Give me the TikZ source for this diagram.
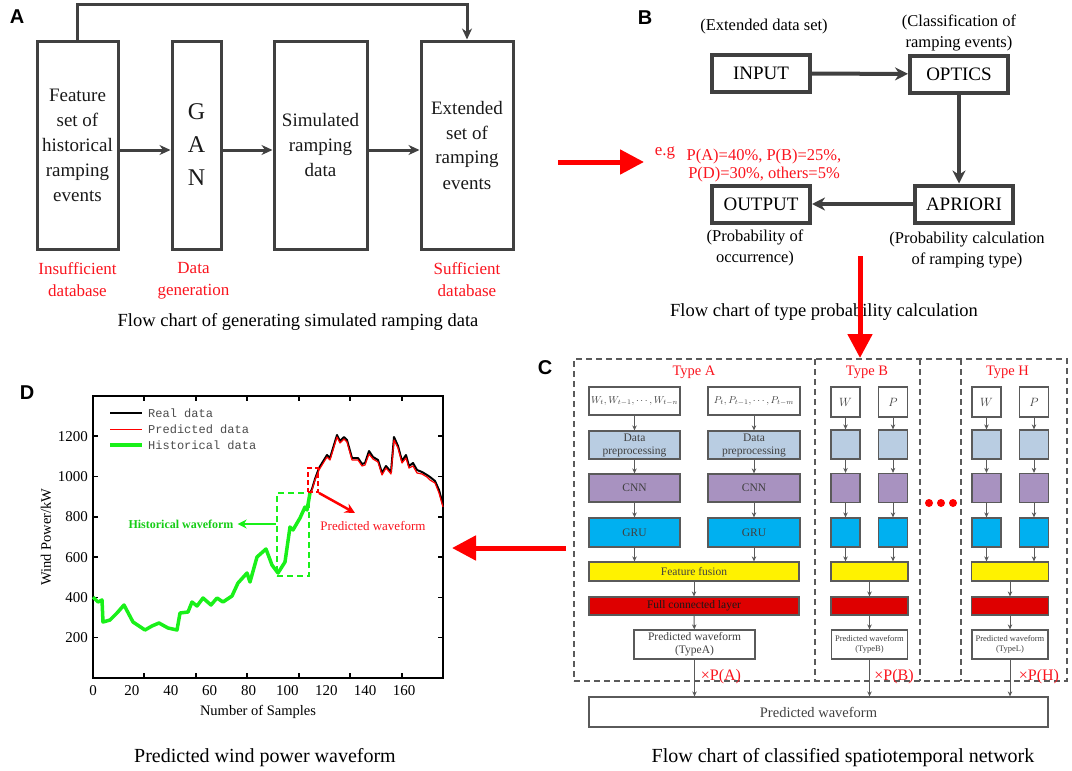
\documentclass[tikz,border=0pt]{standalone}
\usepackage{fontspec}
\setmainfont{Liberation Serif}
\setsansfont{Liberation Sans}
\setmonofont{Liberation Mono}
\usetikzlibrary{arrows.meta,positioning}

\definecolor{boxgray}{RGB}{64,64,64}
\definecolor{cgray}{RGB}{90,90,90}
\definecolor{lblue}{RGB}{185,205,226}
\definecolor{lpurple}{RGB}{168,146,192}
\definecolor{cyanblue}{RGB}{0,176,240}
\definecolor{fcred}{RGB}{222,0,0}
\definecolor{hgreen}{RGB}{25,240,25}
\definecolor{txtred}{RGB}{250,20,30}

\tikzstyle{tallbox} = [draw=boxgray, line width=3pt, inner sep=0pt, align=center,
    text=black!90, minimum height=208pt, font=\fontsize{19}{25}\selectfont]
\tikzstyle{flowbox} = [draw=boxgray, line width=4pt, inner sep=0pt,
    minimum width=98pt, minimum height=37pt, font=\fontsize{19}{22}\selectfont]
\tikzstyle{netbox} = [draw=cgray, line width=1.2pt, inner sep=0pt, align=center,
    text=black!75, font=\fontsize{11.5}{13}\selectfont,
    minimum width=29pt, minimum height=29pt]
\tikzstyle{redtext} = [text=txtred, align=center, inner sep=0pt]
\tikzstyle{plain} = [align=center, inner sep=0pt]
\tikzstyle{caption} = [inner sep=0pt, font=\fontsize{18.5}{22}\selectfont]
\tikzstyle{panel} = [inner sep=0pt, font=\sffamily\bfseries\fontsize{20}{24}\selectfont]
\tikzstyle{thickline} = [draw=boxgray, line width=3pt, -{Stealth[length=11pt,width=10pt]}]
\tikzstyle{flowline} = [draw=boxgray, line width=4pt, -{Stealth[length=13pt,width=13pt]}]
\tikzstyle{netline} = [draw=cgray, line width=1pt, -{Stealth[length=5pt,width=4.5pt]}]
\tikzstyle{redarrow} = [draw=red, line width=5pt, -{Triangle[length=24pt,width=24pt]}]
\tikzstyle{dashline} = [draw=cgray, line width=1.4pt, dash pattern=on 6pt off 4pt]
\tikzstyle{ticklab} = [inner sep=0pt, font=\fontsize{15}{17}\selectfont]
\tikzstyle{legtxt} = [inner sep=0pt, anchor=west, text=black!70, font=\ttfamily\fontsize{12}{14}\selectfont]

\begin{document}
\begin{tikzpicture}[x=1pt, y=-1pt]
\useasboundingbox (0,0) rectangle (1072,771);

% A: generating simulated ramping data
\node[panel] (la) at (17,17) {A};
\node[tallbox, minimum width=81pt] (feat) at (77.5,145) {Feature\\set of\\historical\\ramping\\events};
\node[tallbox, minimum width=49pt, font=\fontsize{24}{33}\selectfont] (gan) at (196.5,145) {G\\A\\N};
\node[tallbox, minimum width=93pt] (sim) at (320.5,145) {Simulated\\ramping\\data};
\node[tallbox, minimum width=92pt] (ext) at (467,145) {Extended\\set of\\ramping\\events};
\draw[thickline] ([yshift=-5pt]feat.east) -- ([yshift=-5pt]gan.west);
\draw[thickline] ([yshift=-5pt]gan.east) -- ([yshift=-5pt]sim.west);
\draw[thickline] ([yshift=-5pt]sim.east) -- ([yshift=-5pt]ext.west);
\draw[thickline] (feat.north) -- ++(0,-35) -| (ext.north);
\node[redtext, font=\fontsize{17}{22}\selectfont, below=12pt of feat] (insuf) {Insufficient\\database};
\node[redtext, font=\fontsize{17}{22}\selectfont, below=12pt of gan, xshift=-3pt] (datagen) {Data\\generation};
\node[redtext, font=\fontsize{17}{22}\selectfont, below=12pt of ext] (suff) {Sufficient\\database};
\node[caption] (capa) at (298,322) {Flow chart of generating simulated ramping data};

% B: type probability
\node[panel] (lb) at (645,18) {B};
\node[flowbox] (input) at (761,73.5) {INPUT};
\node[flowbox] (optics) at (959,74) {OPTICS};
\node[flowbox] (apriori) at (964,204) {APRIORI};
\node[flowbox] (output) at (761,204) {OUTPUT};
\draw[flowline] (input) -- (optics);
\draw[flowline] (optics) -- (optics |- apriori.north);
\draw[flowline] (apriori) -- (output);
\node[plain, font=\fontsize{16.5}{21}\selectfont] (extd) at (764,27) {(Extended data set)};
\node[plain, font=\fontsize{16.5}{21}\selectfont] (classif) at (959,33) {(Classification of\\ramping events)};
\node[plain, font=\fontsize{16.5}{21}\selectfont] (probo) at (755,248) {(Probability of\\occurrence)};
\node[plain, font=\fontsize{16.5}{21}\selectfont] (probc) at (967,250) {(Probability calculation\\of ramping type)};
\node[redtext, font=\fontsize{17}{18}\selectfont] (eg) at (665,153) {e.g};
\node[redtext, font=\fontsize{16.5}{18}\selectfont] (pvals) at (764,166) {P(A)=40\%, P(B)=25\%,\\P(D)=30\%, others=5\%};
\node[caption] (capb) at (824,312) {Flow chart of type probability calculation};
\coordinate (ab1) at (558,162);
\coordinate (ab2) at (644,162);
\draw[redarrow] (ab1) -- (ab2);
\coordinate (bc1) at (860,256);
\coordinate (bc2) at (860,358);
\draw[redarrow] (bc1) -- (bc2);

% C: classified spatiotemporal network
\node[panel] (lc) at (545,368) {C};
\node[dashline, minimum width=493pt, minimum height=322pt] (cframe) at (820.5,520) {};
\foreach \sx in {815,920,961}
  \draw[dashline] (\sx,359) -- (\sx,681);
\node[redtext, font=\fontsize{14.5}{16}\selectfont] (typea) at (694,372) {Type A};
\node[netbox, minimum width=91pt, minimum height=28pt, font=\fontsize{10}{12}\selectfont] (wa) at (634.5,401) {$W_t, W_{t-1}, \cdots, W_{t-n}$};
\node[netbox, minimum width=92pt, minimum height=28pt, font=\fontsize{10}{12}\selectfont] (pa) at (754,401) {$P_t, P_{t-1}, \cdots, P_{t-m}$};
\node[netbox, fill=lblue, minimum width=91pt, minimum height=28pt] (prepwa) at (634.5,445) {Data\\preprocessing};
\node[netbox, fill=lblue, minimum width=92pt, minimum height=28pt] (preppa) at (754,445) {Data\\preprocessing};
\node[netbox, fill=lpurple, minimum width=91pt, minimum height=28pt] (cnnwa) at (634.5,488) {CNN};
\node[netbox, fill=lpurple, minimum width=92pt, minimum height=28pt] (cnnpa) at (754,488) {CNN};
\node[netbox, fill=cyanblue, minimum width=91pt, minimum height=29pt] (gruwa) at (634.5,532.5) {GRU};
\node[netbox, fill=cyanblue, minimum width=92pt, minimum height=29pt] (grupa) at (754,532.5) {GRU};
\node[netbox, fill=yellow, minimum width=210pt, minimum height=19pt] (fusa) at (694,571.5) {Feature fusion};
\node[netbox, fill=fcred, text=black!90, minimum width=210pt, minimum height=18pt] (fcla) at (694,606) {Full connected layer};
\node[netbox, fill=white, minimum width=121pt] (preda) at (694.5,644.5) {Predicted waveform\\(TypeA)};
\draw[netline] (wa) -- (prepwa);
\draw[netline] (pa) -- (preppa);
\draw[netline] (prepwa) -- (cnnwa);
\draw[netline] (preppa) -- (cnnpa);
\draw[netline] (cnnwa) -- (gruwa);
\draw[netline] (cnnpa) -- (grupa);
\draw[netline] (gruwa) -- (gruwa |- fusa.north);
\draw[netline] (grupa) -- (grupa |- fusa.north);
\draw[netline] (fusa) -- (fcla);
\draw[netline] (fcla) -- (preda);
\foreach \t/\wx/\px/\cx/\lab in {B/845.5/893/869.5/TypeB, H/986.5/1034/1010/TypeL} {
  \node[redtext, font=\fontsize{14.5}{16}\selectfont] (type\t) at (\cx-2.5,372) {Type \t};
  \node[netbox, minimum height=30pt, font=\fontsize{13}{13}\selectfont] (w\t) at (\wx,402) {$W$};
  \node[netbox, minimum height=30pt, font=\fontsize{13}{13}\selectfont] (p\t) at (\px,402) {$P$};
  \node[netbox, fill=lblue] (prepw\t) at (\wx,444.5) {};
  \node[netbox, fill=lblue] (prepp\t) at (\px,444.5) {};
  \node[netbox, fill=lpurple] (cnnw\t) at (\wx,488) {};
  \node[netbox, fill=lpurple] (cnnp\t) at (\px,488) {};
  \node[netbox, fill=cyanblue] (gruw\t) at (\wx,532.5) {};
  \node[netbox, fill=cyanblue] (grup\t) at (\px,532.5) {};
  \node[netbox, fill=yellow, minimum width=77pt, minimum height=19pt] (fus\t) at (\cx,571.5) {};
  \node[netbox, fill=fcred, minimum width=77pt, minimum height=18pt] (fcl\t) at (\cx,606) {};
  \node[netbox, minimum width=76pt, font=\fontsize{8.5}{10.5}\selectfont] (pred\t) at (\cx,644.5) {Predicted waveform\\(\lab)};
  \draw[netline] (w\t) -- (prepw\t);
  \draw[netline] (p\t) -- (prepp\t);
  \draw[netline] (prepw\t) -- (cnnw\t);
  \draw[netline] (prepp\t) -- (cnnp\t);
  \draw[netline] (cnnw\t) -- (gruw\t);
  \draw[netline] (cnnp\t) -- (grup\t);
  \draw[netline] (gruw\t) -- (gruw\t |- fus\t.north);
  \draw[netline] (grup\t) -- (grup\t |- fus\t.north);
  \draw[netline] (fus\t) -- (fcl\t);
  \draw[netline] (fcl\t) -- (pred\t);
}
\foreach \dx in {929,941,953}
  \fill[red] (\dx,503) circle (4);
\node[netbox, minimum width=459pt, minimum height=30pt, font=\fontsize{14.5}{16}\selectfont] (allpred) at (818.5,712) {Predicted waveform};
\draw[netline] (preda) -- (preda |- allpred.north);
\draw[netline] (predB) -- (predB |- allpred.north);
\draw[netline] (predH) -- (predH |- allpred.north);
\node[redtext, font=\fontsize{16}{18}\selectfont] (xpa) at (721,677) {×P(A)};
\node[redtext, font=\fontsize{16}{18}\selectfont] (xpb) at (894,677) {×P(B)};
\node[redtext, font=\fontsize{16}{18}\selectfont] (xph) at (1039,677) {×P(H)};
\node[caption, font=\fontsize{20}{24}\selectfont] (capc) at (843,758) {Flow chart of classified spatiotemporal network};
\coordinate (cd1) at (566,548);
\coordinate (cd2) at (452,548);
\draw[redarrow] (cd1) -- (cd2);

% D: predicted wind power
\node[panel] (ld) at (27,393) {D};
\draw[black, line width=2pt] (93,396) rectangle (443,678);
\foreach \x in {144,196,247,299,350,402} {
  \draw[line width=1.5pt] (\x,678) -- ++(0,-5);
  \draw[line width=1.5pt] (\x,396) -- ++(0,5);
}
\foreach \v in {200,400,...,1200} {
  \draw[line width=1.5pt] (93,{678-0.2015*\v}) -- ++(5,0);
  \draw[line width=1.5pt] (443,{678-0.2015*\v}) -- ++(-5,0);
  \node[ticklab, anchor=east] at (88,{678-0.2015*\v}) {\v};
}
\foreach \n in {0,20,...,160}
  \node[ticklab] at ({93+1.944*\n},691) {\n};
\node[plain, font=\fontsize{14.5}{17}\selectfont] (xlab) at (258,712) {Number of Samples};
\node[plain, rotate=90, font=\fontsize{14.5}{17}\selectfont] (ylab) at (46,537) {Wind Power/kW};
\node[caption, font=\fontsize{20}{24}\selectfont] (capd) at (265,758) {Predicted wind power waveform};
% curves
\draw[hgreen, line width=3.5pt, line join=round] plot coordinates {(93,597) (98,602) (102,600) (103,622)
  (110,620) (117,613) (124,605) (133,622) (145,630) (152,626) (159,623) (168,628) (177,630) (180,613)
  (188,612) (192,602) (197,606) (203,598) (211,605) (217,598) (223,602) (232,596) (238,583) (247,573)
  (250,582) (257,557) (266,549) (272,565) (278,573) (285,562) (290,527) (293,530) (300,518) (305,507)
  (307,510) (310,493)};
\draw[black, line width=2pt, line join=round] plot coordinates {(310,493) (312,489) (315,479) (319,468)
  (327,455) (330,458) (337,435) (340,441) (344,437) (347,440) (352,458) (358,458) (362,464) (365,463)
  (369,451) (373,457) (378,460) (382,473) (386,466) (391,472) (394,437) (398,446) (402,461) (406,455)
  (409,466) (413,463) (417,470) (422,472) (427,475) (430,477) (435,481) (439,490) (443,505)};
\draw[red, line width=1.2pt, line join=round] plot coordinates {(310,493) (312,490) (315,480) (319,470)
  (327,457) (330,460) (337,437) (340,443) (344,439) (347,442) (352,460) (358,460) (362,466) (365,465)
  (369,454) (373,459) (378,462) (382,475) (386,468) (391,474) (394,440) (398,448) (402,463) (406,458)
  (409,468) (413,466) (417,473) (422,474) (427,477) (430,480) (435,483) (439,493) (443,507)};
% legend
\draw[black, line width=1.5pt] (110,413) -- (142,413);
\draw[red, line width=1pt] (110,429) -- (142,429);
\draw[hgreen, line width=3.5pt] (110,445) -- (142,445);
\node[legtxt] (lreal) at (148,413) {Real data};
\node[legtxt] (lpred) at (148,429) {Predicted data};
\node[legtxt] (lhist) at (148,445) {Historical data};
% marked windows
\node[draw=hgreen, line width=2.5pt, dash pattern=on 6pt off 4pt, inner sep=0pt,
  minimum width=32pt, minimum height=83pt] (hwin) at (293,534.5) {};
\node[draw=red, line width=1.8pt, dash pattern=on 5pt off 3pt, inner sep=0pt,
  minimum width=10pt, minimum height=24pt] (pwin) at (313,480) {};
\node[inner sep=0pt, text=hgreen!85!black, font=\bfseries\fontsize{12}{14}\selectfont] (htxt) at (181,524) {Historical waveform};
\node[inner sep=0pt, text=txtred, font=\fontsize{13}{15}\selectfont] (ptxt) at (373,526) {Predicted waveform};
\draw[draw=hgreen, line width=2.5pt, -{Stealth[length=9pt,width=9pt]}] (hwin.west |- htxt) -- ([xshift=4pt]htxt.east);
\coordinate (ptip) at (355,513);
\draw[draw=red, line width=2.5pt, -{Stealth[length=10pt,width=10pt]}] (pwin.south east) -- (ptip);
\end{tikzpicture}
\end{document}
